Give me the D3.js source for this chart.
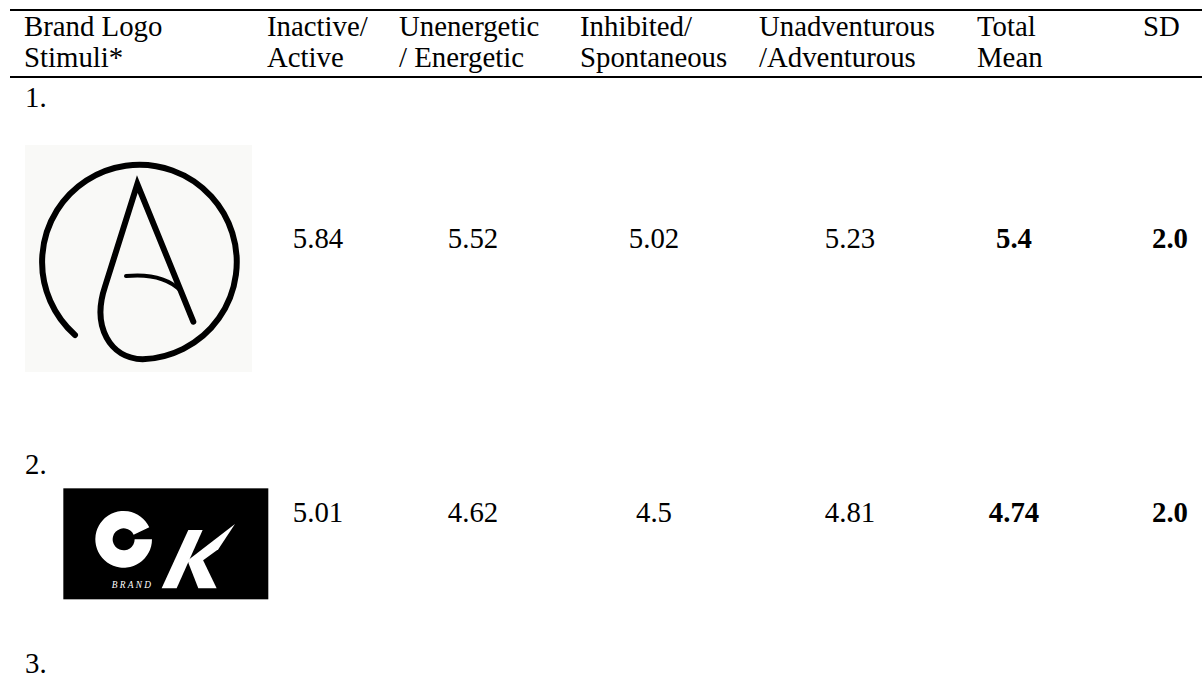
<!DOCTYPE html>
<html>
<head>
<meta charset="utf-8">
<script src="https://cdn.jsdelivr.net/npm/d3@7"></script>
<style>
  html, body { margin: 0; padding: 0; background: #ffffff; }
  svg { display: block; }
  text { font-family: "Liberation Serif", "Times New Roman", serif; fill: #000; }
</style>
</head>
<body>
<svg id="chart" width="1202" height="679"></svg>
<script>
// ---------- data ----------
const columnKeys = ["logo", "inactive", "unenergetic", "inhibited", "unadventurous", "total", "sd"];
const headerLine1 = ["Brand Logo", "Inactive/", "Unenergetic", "Inhibited/", "Unadventurous", "Total", "SD"];
const headerLine2 = ["Stimuli*", "Active", "/ Energetic", "Spontaneous", "/Adventurous", "Mean", ""];
const stimulusLabels = ["1.", "2.", "3."];
const stimuli = ["1", "2"];
const inactiveActive = [5.84, 5.01];
const unenergeticEnergetic = [5.52, 4.62];
const inhibitedSpontaneous = [5.02, 4.5];
const unadventurousAdventurous = [5.23, 4.81];
const totalMean = [5.4, 4.74];
const sdValues = [2.0, 2.0];

// ---------- layout ----------
const W = 1202, H = 679;
const svg = d3.select("#chart");
const FONT = 28.8;

const headerX = d3.scaleOrdinal().domain(columnKeys).range([24, 267, 399, 580, 759, 977, 1143]);
const valueX = d3.scaleOrdinal().domain(columnKeys.slice(1)).range([318, 473, 654, 850, 1014, 1170]);
const rowY = d3.scaleOrdinal().domain(stimuli).range([248, 522]);
const labelY = d3.scaleOrdinal().domain(stimulusLabels).range([107, 474, 673]);

// rules
svg.append("rect").attr("x", 10).attr("y", 9).attr("width", W - 10).attr("height", 2).attr("fill", "#000");
svg.append("rect").attr("x", 10).attr("y", 76).attr("width", W - 10).attr("height", 2).attr("fill", "#000");

// header
const hdr = svg.append("g");
columnKeys.forEach((k, i) => {
  hdr.append("text").attr("x", headerX(k)).attr("y", 36).attr("font-size", FONT).text(headerLine1[i]);
  if (headerLine2[i]) hdr.append("text").attr("x", headerX(k)).attr("y", 67).attr("font-size", FONT).text(headerLine2[i]);
});

// stimulus labels
svg.append("g").selectAll("text").data(stimulusLabels).join("text")
  .attr("x", 25).attr("y", d => labelY(d)).attr("font-size", FONT).text(d => d);

// values
const series = [
  {key: "inactive", vals: inactiveActive, fmt: d => String(d), bold: false},
  {key: "unenergetic", vals: unenergeticEnergetic, fmt: d => String(d), bold: false},
  {key: "inhibited", vals: inhibitedSpontaneous, fmt: d => String(d), bold: false},
  {key: "unadventurous", vals: unadventurousAdventurous, fmt: d => String(d), bold: false},
  {key: "total", vals: totalMean, fmt: d => String(d), bold: true},
  {key: "sd", vals: sdValues, fmt: d => d.toFixed(1), bold: true}
];
const cells = [];
series.forEach(s => s.vals.forEach((v, i) => cells.push({key: s.key, row: stimuli[i], text: s.fmt(v), bold: s.bold})));
svg.append("g").selectAll("text").data(cells).join("text")
  .attr("x", d => valueX(d.key)).attr("y", d => rowY(d.row))
  .attr("text-anchor", "middle").attr("font-size", FONT)
  .attr("font-weight", d => d.bold ? "bold" : "normal")
  .text(d => d.text);

// ---------- logo 1 (circle-A) ----------
const logo1 = svg.append("g").attr("transform", "translate(20,140) scale(0.3333)");
logo1.append("rect").attr("x", 15).attr("y", 15).attr("width", 681).attr("height", 681).attr("fill", "#f9f9f7");
logo1.append("path")
  .attr("d", "M165,585 A292,292 0 1 1 368,658 C270,655 215,560 255,440 L352,132 L520,545")
  .attr("fill", "none").attr("stroke", "#000").attr("stroke-width", 18)
  .attr("stroke-linecap", "round").attr("stroke-linejoin", "miter").attr("stroke-miterlimit", 10);
logo1.append("path")
  .attr("d", "M318,408 C400,400 450,420 482,452")
  .attr("fill", "none").attr("stroke", "#000").attr("stroke-width", 12).attr("stroke-linecap", "round");

// ---------- logo 2 (OK brand) ----------
const logo2 = svg.append("g").attr("transform", "translate(20,450) scale(0.3333)");
logo2.append("rect").attr("x", 130).attr("y", 115).attr("width", 615).attr("height", 333).attr("fill", "#000");
const gArc = d3.arc().innerRadius(33).outerRadius(85).startAngle(Math.PI / 2).endAngle(2 * Math.PI + 1.13);
logo2.append("path").attr("transform", "translate(311,268)").attr("d", gArc()).attr("fill", "#fff");
logo2.append("path").attr("d", "M425,415 L505,240 L548,240 L470,415 Z").attr("fill", "#fff");
logo2.append("path").attr("d", "M498,335 L645,222 L595,298 L530,345 Z").attr("fill", "#fff");
logo2.append("path").attr("d", "M505,338 L545,322 L590,415 L535,415 Z").attr("fill", "#fff");
logo2.append("text").attr("x", 275).attr("y", 413).attr("font-size", 28).attr("font-style", "italic")
  .attr("letter-spacing", 7).style("fill", "#fff").attr("font-family", "Liberation Sans, sans-serif").text("BRAND");
</script>
</body>
</html>
